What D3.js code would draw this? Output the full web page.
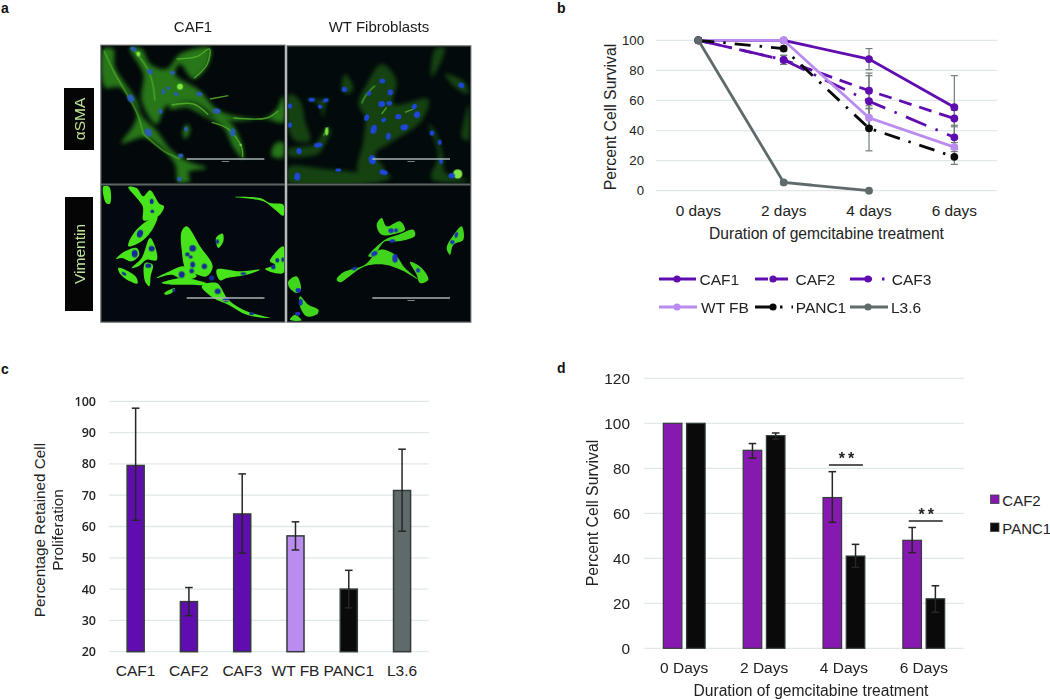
<!DOCTYPE html>
<html><head><meta charset="utf-8">
<script src="https://cdn.jsdelivr.net/npm/d3@7"></script>
<style>html,body{margin:0;padding:0;background:#fff;overflow:hidden}svg{display:block}text{font-family:"Liberation Sans",Arial,sans-serif;fill:#222}</style>
</head><body><svg id="c" width="1050" height="699"></svg>
<script>
// ---- panel b data
const daysB = ["0 days","2 days","4 days","6 days"];
const seriesNames = ["CAF1","CAF2","CAF3","WT FB","PANC1","L3.6"];
const caf1Line = [100,100,87.5,55.5];
const caf2Line = [100,87,66.5,48];
const caf3Line = [100,87,59.5,35.5];
const wtLine = [100,100,48.5,29];
const panc1Line = [100,94.5,41.5,22.5];
const l36Line = [100,5.5,0,null];
const caf1Err = [0,0,7,21];
const caf2Err = [0,3,11.7,5.5];
const caf3Err = [0,3,17,8];
const wtErr = [0,0,6,3];
const panc1Err = [0,1.5,15,5];
const l36Err = [0,1,0,0];
const ticksB = [0,20,40,60,80,100];
// ---- panel c data
const catsC = ["CAF1","CAF2","CAF3","WT FB","PANC1","L3.6"];
const valsC = [79.5,36,64,57,40,71.5];
const hiC = [97.8,40.5,76.8,61.5,46,84.7];
const loC = [62,31.5,51.5,52.5,34,58.5];
const ticksC = [20,30,40,50,60,70,80,90,100];
// ---- panel d data
const daysD = ["0 Days","2 Days","4 Days","6 Days"];
const caf2Bars = [100,88,67,48];
const caf2Hi = [100,91,78.5,53.7];
const caf2Lo = [100,84.5,56,42.5];
const panc1Bars = [100,94.5,41,22];
const panc1Hi = [100,95.7,46.2,27.8];
const panc1Lo = [100,93,36,16];
const sigD = [null,null,81.5,56.6];
const ticksD = [0,20,40,60,80,100,120];

const PURPLE="#600db0",LILAC="#bb8cf0",GREY="#5f6b6b",BLACK="#0a0a0a",PURPLE_D="#8519b0",GRID="#e0e9e6",ERRG="#6f7d7b";
const svg=d3.select("#c");
const defs=svg.append("defs");
[["blurWide",7],["blurMid",3],["blurFine",1.6]].forEach(b=>defs.append("filter").attr("id",b[0])
  .attr("x","-20%").attr("y","-20%").attr("width","140%").attr("height","140%")
  .append("feGaussianBlur").attr("stdDeviation",b[1]));

function txt(g,x,y,s,size,o={}){
  const t=g.append("text").attr("x",x).attr("y",y).text(s).attr("font-size",size)
   .attr("text-anchor",o.anchor||"middle").attr("font-weight",o.weight||"normal");
  if(o.rot)t.attr("transform",`rotate(${o.rot} ${x} ${y})`);
  if(o.fill)t.style("fill",o.fill);
  if(o.spacing)t.style("letter-spacing",o.spacing);
  return t;
}
[["a",1,12.7],["b",557,12.7],["c",1,374],["d",557,373]].forEach(d=>txt(svg,d[1],d[2],d[0],14,{anchor:"start",weight:"bold",fill:"#111"}));

// ---- panel a: micrographs (illustration, coordinates are in 3x crop space of each frame)
const closed=d3.line().curve(d3.curveCatmullRomClosed.alpha(.5));
const open=d3.line().curve(d3.curveCatmullRom.alpha(.5));
const frames=[
 {ox:100,oy:44,x0:5,y0:6,x1:553,y1:418,bg:"#03090b",fill:"#2f8a1b",op:.85,cellBlur:"blurWide",
  cells:[[[10,15],[40,15],[45,70],[110,170],[125,215],[170,260],[215,320],[270,355],[320,372],[265,385],[270,410],[235,415],[225,360],[170,300],[130,280],[65,298],[100,245],[110,210],[60,130],[15,130]],
   [[90,12],[125,15],[150,60],[200,75],[240,30],[330,12],[325,60],[280,105],[240,60],[225,90],[300,140],[350,195],[400,215],[500,220],[530,195],[550,155],[550,235],[500,225],[400,230],[350,220],[280,175],[200,185],[170,240],[125,170],[130,90]],
   [[210,180],[280,180],[330,215],[390,235],[425,300],[430,345],[400,310],[370,250],[310,215],[260,190],[210,195]],
   [[262,240],[270,260],[255,285],[248,265]],[[525,300],[550,295],[550,340],[515,335]]],
  strokes:[[[230,45],[290,38],[328,15],[322,60],[282,103]],[[215,183],[280,180],[325,212]],[[335,235],[385,255],[425,310],[428,340]],[[400,222],[500,222],[535,200]],[[12,20],[40,80],[110,205],[130,270]],[[330,165],[385,155]],[[130,270],[190,320],[240,345]],[[100,15],[150,90],[165,170]]],
  spots:[[240,128,9,9,0],[115,30,6,8,0],[422,303,4,3,0]],
  nuclei:[[150,83,10,7,45],[218,86,8,6,0],[205,132,6,5,0],[190,143,6,8,0],[228,150,8,5,20],[298,150,10,6,20],[350,201,12,8,10],[92,163,10,12,-30],[181,202,6,8,0],[145,265,10,13,-30],[398,265,8,12,0],[242,335,8,7,0],[238,405,7,7,0],[258,255,6,7,0],[100,15,10,6,20]],
  nucleusFill:"#2a5cb4",bar:[260,493,345]},
 {ox:285,oy:44,x0:8,y0:8,x1:555,y1:418,bg:"#030a0c",fill:"#236614",op:.62,cellBlur:"blurWide",
  cells:[[[170,135],[180,90],[205,130],[190,150]],[[60,165],[130,165],[165,150],[125,175],[115,220],[100,180]],[[12,150],[45,170],[60,230],[75,290],[30,290],[12,260]],
   [[240,130],[290,60],[335,110],[325,180],[430,165],[410,230],[310,300],[270,330],[300,380],[220,385],[235,290],[240,220],[220,180]],
   [[10,315],[90,300],[125,250],[138,255],[115,310],[100,330],[10,335]],[[10,370],[120,375],[220,385],[320,395],[300,410],[10,415]],
   [[450,15],[480,10],[470,50],[440,100]],[[480,90],[540,115],[550,150],[510,130]],[[430,240],[450,260],[475,340],[480,385],[550,410],[440,405],[460,330]],[[535,240],[550,180],[550,290],[530,280]]],
  strokes:[[[230,178],[245,150],[270,125]],[[360,205],[385,195]],[[115,275],[130,250]],[[290,210],[305,190]]],
  spots:[[518,390,14,14,0],[125,262,5,12,20]],
  nuclei:[[178,136,8,8,0],[80,167,10,6,0],[122,169,9,6,-20],[105,188,7,6,30],[15,186,6,8,0],[15,243,6,8,0],[42,321,8,9,0],[100,303,13,7,-10],[37,398,9,12,0],[160,378,9,5,0],[292,111,9,7,0],[252,148,6,8,30],[316,145,8,9,0],[290,180,10,9,0],[313,178,8,7,0],[245,221,7,10,20],[296,228,8,6,-30],[266,256,9,14,15],[310,277,7,11,10],[358,250,12,9,-15],[396,212,9,10,20],[340,218,9,8,0],[388,188,7,9,30],[441,267,7,8,0],[464,295,6,8,0],[262,347,11,14,-10],[296,385,13,8,15],[529,124,9,8,30],[468,352,6,8,0],[500,395,10,8,0]],
  nucleusFill:"#1f46d8",bar:[262,495,345]},
 {ox:100,oy:183,x0:5,y0:8,x1:553,y1:415,bg:"#040910",fill:"#46e41e",op:1,cellBlur:"blurFine",
  cells:[[[10,10],[28,12],[30,62],[18,60]],[[85,12],[110,15],[130,40],[150,22],[178,62],[192,70],[180,95],[150,110],[130,112],[128,70]],[[172,100],[125,125],[95,160],[85,190],[125,175],[160,135]],
   [[48,228],[75,205],[110,195],[118,215],[95,235],[65,225]],[[95,255],[125,225],[150,165],[165,190],[170,232],[140,230],[115,250]],[[55,255],[85,265],[110,285],[112,302],[90,295],[60,272]],[[135,240],[158,245],[152,280],[148,310],[135,295]],[[193,330],[225,315],[215,330],[195,335]],
   [[245,145],[260,130],[300,190],[338,250],[320,280],[280,270],[258,260],[245,200]],[[170,285],[215,262],[250,250],[290,280],[250,290],[215,275]],[[185,300],[250,285],[330,305],[250,305],[215,305]],[[305,310],[350,300],[385,350],[440,385],[510,405],[440,395],[385,365],[340,345]],[[350,260],[420,265],[480,260],[440,275],[380,285],[360,292]],[[400,42],[480,45],[510,60],[550,65],[550,98],[525,80],[490,55]],[[348,165],[368,152],[370,175],[355,195]],[[510,235],[550,190],[550,270],[495,258],[525,245]]],
  strokes:[],spots:[],
  nuclei:[[155,55,6,8,0],[157,85,6,5,0],[120,152,9,12,20],[104,212,9,11,0],[155,197,9,8,0],[145,248,9,7,0],[72,272,8,4,30],[222,322,5,5,0],[278,196,10,10,0],[262,214,7,6,0],[272,222,6,5,0],[278,245,7,9,0],[245,275,9,10,0],[275,264,7,7,0],[313,250,8,8,0],[335,285,8,8,0],[353,325,9,8,0],[378,350,9,7,0],[430,272,9,4,0],[455,392,7,5,0],[532,232,6,7,0],[548,230,4,7,0],[520,252,7,7,0],[352,176,5,7,0]],
  nucleusFill:"#182a98",bar:[260,493,345]},
 {ox:285,oy:183,x0:8,y0:8,x1:555,y1:415,bg:"#03080c",fill:"#3fd41c",op:1,cellBlur:"blurFine",
  cells:[[[275,125],[290,105],[305,130],[345,115],[360,140],[340,150],[290,155]],[[385,140],[390,158],[340,175],[300,175],[265,220],[250,220],[300,170],[340,155]],[[155,290],[175,268],[240,245],[285,200],[330,215],[360,255],[400,290],[350,262],[300,245],[240,250],[180,290],[165,298]],[[375,237],[410,255],[430,290],[405,300],[395,275]],[[510,150],[530,130],[535,170],[505,185],[495,215],[485,195]],[[10,295],[35,280],[48,320],[35,330],[12,312]],[[45,340],[70,365],[100,380],[98,392],[65,400],[45,370]],[[15,410],[30,395],[50,412]]],
  strokes:[],spots:[],
  nuclei:[[318,143,8,7,0],[333,142,6,6,0],[322,174,9,5,-10],[268,212,10,7,-30],[330,226,8,13,0],[208,257,8,5,-10],[399,262,6,7,0],[514,156,5,9,20],[502,177,7,6,0],[40,322,8,7,0],[47,358,6,10,0],[38,392,8,6,0]],
  nucleusFill:"#1c30b8",bar:[262,495,345]}
];
frames.forEach((f,i)=>{
  const g=svg.append("g").attr("transform",`translate(${f.ox},${f.oy}) scale(${1/3})`);
  const cid="clip"+i;
  defs.append("clipPath").attr("id",cid).append("rect").attr("x",f.x0).attr("y",f.y0).attr("width",f.x1-f.x0).attr("height",f.y1-f.y0);
  g.append("rect").attr("x",f.x0-2).attr("y",f.y0-2).attr("width",f.x1-f.x0+4).attr("height",f.y1-f.y0+4).attr("fill",f.bg).attr("stroke","#4a5250").attr("stroke-width",4);
  const inner=g.append("g").attr("clip-path",`url(#${cid})`);
  inner.append("g").attr("filter",`url(#${f.cellBlur})`).attr("opacity",f.op)
    .selectAll("path").data(f.cells).join("path").attr("d",d=>closed(d)).attr("fill",f.fill);
  const art=inner.append("g").attr("filter","url(#blurFine)");
  art.selectAll(".st").data(f.strokes).join("path").attr("d",d=>open(d)).attr("fill","none").attr("stroke","#53b42c").attr("stroke-width",4).attr("opacity",.85);
  art.selectAll(".sp").data(f.spots).join("ellipse").attr("cx",d=>d[0]).attr("cy",d=>d[1]).attr("rx",d=>d[2]).attr("ry",d=>d[3]).attr("fill","#7fe845");
  art.selectAll(".nu").data(f.nuclei).join("ellipse").attr("rx",d=>d[2]).attr("ry",d=>d[3])
    .attr("transform",d=>`translate(${d[0]},${d[1]}) rotate(${d[4]})`).attr("fill",f.nucleusFill);
  inner.append("line").attr("x1",f.bar[0]).attr("x2",f.bar[1]).attr("y1",f.bar[2]).attr("y2",f.bar[2]).attr("stroke","#a9b3b3").attr("stroke-width",5);
  inner.append("rect").attr("x",(f.bar[0]+f.bar[1])/2-11).attr("y",f.bar[2]+6).attr("width",22).attr("height",3).attr("fill","#7a8484");
});
svg.append("line").attr("x1",286).attr("x2",286).attr("y1",45).attr("y2",322).attr("stroke","#c4c9c9").attr("stroke-width",1.6);
txt(svg,193,32,"CAF1",15,{fill:"#1a1a1a"});
txt(svg,379,32,"WT Fibroblasts",15,{fill:"#1a1a1a"});
[[64,88,30,62,"αSMA"],[65,197,28,114,"Vimentin"]].forEach(d=>{
  svg.append("rect").attr("x",d[0]).attr("y",d[1]).attr("width",d[2]).attr("height",d[3]).attr("fill","#050505");
  const cx=d[0]+d[2]/2+5.5, cy=d[1]+d[3]/2;
  txt(svg,cx,cy,d[4],15.5,{rot:-90,fill:"#bfe39a"});
});

function grid(sel,y,ticks,x0,x1){
  sel.append("g").selectAll("line").data(ticks).join("line").attr("x1",x0).attr("x2",x1)
   .attr("y1",d=>y(d)).attr("y2",d=>y(d)).attr("stroke",GRID).attr("stroke-width",1.3);
}
function axes(sel,x,y,ticks,xBase,yRight,xSize,ySize,yOpt={}){
  const ay=sel.append("g").attr("transform",`translate(${yRight},0)`).call(d3.axisLeft(y).tickValues(ticks).tickSize(0).tickPadding(0));
  ay.select(".domain").remove();
  ay.selectAll("text").attr("font-size",ySize).attr("font-weight",yOpt.weight||"normal").style("font-family",yOpt.family||null);
  const ax=sel.append("g").attr("transform",`translate(0,${xBase})`).call(d3.axisBottom(x).tickSize(0).tickPadding(0));
  ax.select(".domain").remove();
  ax.selectAll("text").attr("font-size",xSize).attr("dy",0).attr("y",0);
}
function whisker(g,x,yHi,yLo,cap,color,w){
  g.append("line").attr("x1",x).attr("x2",x).attr("y1",yHi).attr("y2",yLo).attr("stroke",color).attr("stroke-width",w);
  [yHi,yLo].forEach(v=>g.append("line").attr("x1",x-cap).attr("x2",x+cap).attr("y1",v).attr("y2",v).attr("stroke",color).attr("stroke-width",w));
}

// ---- panel b
{
 const g=svg.append("g");
 const x=d3.scaleBand().domain(daysB).range([655.7,997]);
 const y=d3.scaleLinear().domain([0,100]).range([190.7,40.3]);
 grid(g,y,ticksB,655.7,997);
 axes(g,x,y,ticksB,216,644,15.4,13.2);
 txt(g,826.5,239,"Duration of gemcitabine treatment",15.6);
 txt(g,616,117,"Percent Cell Survival",15.8,{rot:-90});
 const lines=[caf1Line,caf2Line,caf3Line,wtLine,panc1Line,l36Line];
 const errs=[caf1Err,caf2Err,caf3Err,wtErr,panc1Err,l36Err];
 const cols=[PURPLE,PURPLE,PURPLE,LILAC,BLACK,GREY];
 const dashes=[null,"13 8","22 10 2.5 10",null,"16 9 2.5 9",null];
 const cx=d=>x(d)+x.bandwidth()/2;
 lines.forEach((s,i)=>s.forEach((v,j)=>{ if(v!==null&&errs[i][j]>0) whisker(g,cx(daysB[j]),y(Math.min(100,v+errs[i][j])),y(Math.max(0,v-errs[i][j])),3.5,ERRG,1.2);}));
 const ln=d3.line().defined(d=>d.v!==null).x(d=>cx(d.k)).y(d=>y(d.v));
 lines.forEach((s,i)=>{
  const pts=s.map((v,j)=>({k:daysB[j],v}));
  g.append("path").attr("d",ln(pts)).attr("fill","none").attr("stroke",cols[i]).attr("stroke-width",2.8).attr("stroke-dasharray",dashes[i]);
  g.selectAll(null).data(pts.filter(d=>d.v!==null)).join("circle").attr("cx",d=>cx(d.k)).attr("cy",d=>y(d.v)).attr("r",3.9).attr("fill",cols[i]);
 });
 const leg=[[659,696,699.5,279],[755,788,795.5,279],[850,885,891.7,279],[659,697,701,307],[755,793,795.7,307],[850,888,891,307]];
 seriesNames.forEach((n,i)=>{
  const L=leg[i];
  g.append("line").attr("x1",L[0]).attr("x2",L[1]).attr("y1",L[3]).attr("y2",L[3]).attr("stroke",cols[i]).attr("stroke-width",2.8).attr("stroke-dasharray",dashes[i]);
  g.append("circle").attr("cx",L[0]+18).attr("cy",L[3]).attr("r",3.6).attr("fill",cols[i]);
  txt(g,L[2],L[3]+5.5,n,15.5,{anchor:"start"});
 });
}
// ---- panel c
{
 const g=svg.append("g");
 const x=d3.scaleBand().domain(catsC).range([109,428.7]).paddingInner(0.68).paddingOuter(0.34);
 const y=d3.scaleLinear().domain([20,100]).range([651.7,401.3]);
 grid(g,y,ticksC,109,428.7);
 axes(g,x,y,ticksC,676,96,15.5,12.5,{weight:600,family:"Open Sans"});
 const cols=[PURPLE,PURPLE,PURPLE,LILAC,BLACK,GREY];
 g.selectAll("rect.b").data(catsC).join("rect").attr("x",d=>x(d)).attr("width",x.bandwidth())
  .attr("y",(d,i)=>y(valsC[i])).attr("height",(d,i)=>y(20)-y(valsC[i])).attr("fill",(d,i)=>cols[i]).attr("stroke","#333b3b").attr("stroke-width",1.5);
 catsC.forEach((c,i)=>whisker(g,x(c)+x.bandwidth()/2,y(hiC[i]),y(loC[i]),3.8,"#262626",1.5));
 txt(g,44.5,530,"Percentage Retained Cell",15.3,{rot:-90});
 txt(g,63,530,"Proliferation",15.3,{rot:-90});
}
// ---- panel d
{
 const g=svg.append("g");
 const x=d3.scaleBand().domain(daysD).range([644.3,963.7]);
 const inner=d3.scaleBand().domain(["CAF2","PANC1"]).range([0,x.bandwidth()]).paddingInner(0.2).paddingOuter(0.82);
 const y=d3.scaleLinear().domain([0,120]).range([648.3,378.3]);
 grid(g,y,ticksD,644.3,963.7);
 axes(g,x,y,ticksD,673,630,15.5,15.4);
 const sets=[["CAF2",caf2Bars,caf2Hi,caf2Lo,PURPLE_D],["PANC1",panc1Bars,panc1Hi,panc1Lo,BLACK]];
 sets.forEach(S=>{
  g.selectAll(null).data(daysD).join("rect").attr("x",d=>x(d)+inner(S[0])).attr("width",inner.bandwidth())
   .attr("y",(d,i)=>y(S[1][i])).attr("height",(d,i)=>y(0)-y(S[1][i])).attr("fill",S[4]).attr("stroke","#333b3b").attr("stroke-width",1.2);
  daysD.forEach((d,i)=>{ if(S[2][i]>S[1][i]) whisker(g,x(d)+inner(S[0])+inner.bandwidth()/2,y(S[2][i]),y(S[3][i]),3.8,"#262626",1.5);});
 });
 daysD.forEach((d,i)=>{ if(sigD[i]===null)return;
  const c=(x(d)+inner("CAF2")+x(d)+inner("PANC1")+inner.bandwidth())/2+2;
  g.append("line").attr("x1",c-17).attr("x2",c+17).attr("y1",y(sigD[i])).attr("y2",y(sigD[i])).attr("stroke","#222").attr("stroke-width",1.4);
  txt(g,c+2,y(sigD[i])-1,"**",16,{weight:"bold",spacing:"3px"});
 });
 txt(g,811,696,"Duration of gemcitabine treatment",15.6);
 txt(g,597.5,513,"Percent Cell Survival",15.8,{rot:-90});
 [["CAF2",PURPLE_D,495],["PANC1",BLACK,523]].forEach(L=>{
  g.append("rect").attr("x",990.5).attr("y",L[2]).attr("width",8.5).attr("height",8.5).attr("fill",L[1]).attr("stroke","#3a4242").attr("stroke-width",.8);
  txt(g,1002.3,L[2]+11,L[0],15,{anchor:"start"});
 });
}
</script></body></html>
